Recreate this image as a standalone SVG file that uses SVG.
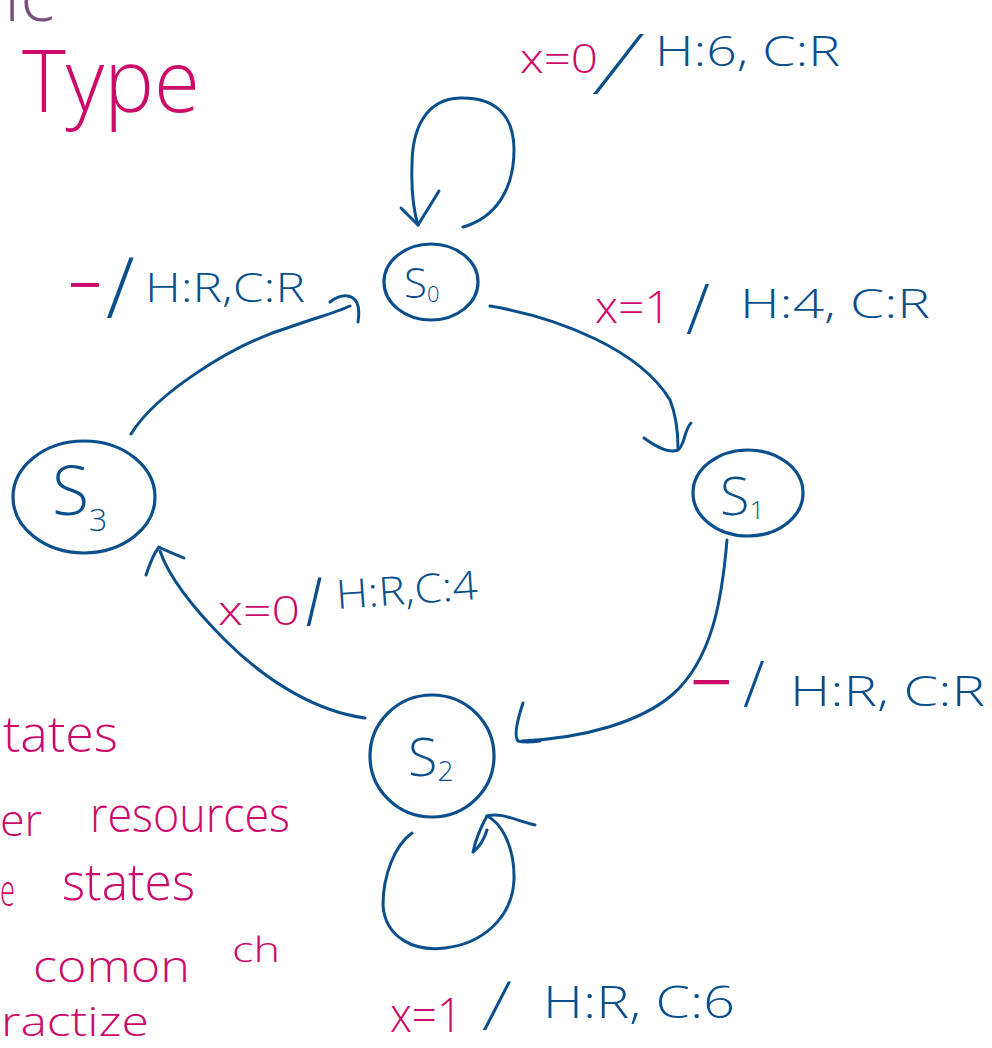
<svg xmlns="http://www.w3.org/2000/svg" width="992" height="1048" viewBox="0 0 992 1048">
  <defs>
    <style>
      .ink { fill: none; stroke: #0a4f8c; stroke-width: 3; stroke-linecap: round; stroke-linejoin: round; }
      .node { fill: none; stroke: #0a4f8c; stroke-width: 3.2; }
      text { font-family: "Open Sans", "Liberation Sans", sans-serif; font-weight: 300; }
      .blue { fill: #0a4f8c; }
      .pink { fill: #cc0a6a; }
      .plum { fill: #7b4f7f; }
      .dash { font-weight: 400; }
    </style>
  </defs>
  <rect width="992" height="1048" fill="#ffffff"/>

  <!-- heading fragments -->
  <text class="plum" x="4" y="21" font-size="72">ic</text>
  <text class="pink" x="22" y="112" font-size="86" textLength="178" lengthAdjust="spacingAndGlyphs">Type</text>

  <!-- states -->
  <g id="s0">
    <ellipse class="node" cx="431" cy="282" rx="47" ry="38"/>
    <text class="blue" x="404" y="298" font-size="42">S<tspan font-size="22" dy="4">0</tspan></text>
  </g>
  <g id="s1">
    <ellipse class="node" cx="748" cy="493" rx="55" ry="43"/>
    <text class="blue" x="720" y="515" font-size="54">S<tspan font-size="26" dy="4">1</tspan></text>
  </g>
  <g id="s2">
    <ellipse class="node" cx="432" cy="756" rx="62" ry="61"/>
    <text class="blue" x="408" y="776" font-size="54">S<tspan font-size="28" dy="5">2</tspan></text>
  </g>
  <g id="s3">
    <ellipse class="node" cx="84" cy="497" rx="71" ry="56"/>
    <text class="blue" x="52" y="515" font-size="68">S<tspan font-size="32" dy="16">3</tspan></text>
  </g>

  <!-- transitions -->
  <g id="connectors">
    <!-- S0 self loop -->
    <path class="ink" d="M463,227 C495,218 514,190 514,150 C514,115 495,97 460,98 C425,99 412,130 412,165 C411,195 414,212 418,225"/>
    <path class="ink" d="M401,208 L418,225 L439,191"/>
    <!-- S0 to S1 -->
    <path class="ink" d="M490,306 C560,318 640,350 670,400 C676,415 678,432 678,448"/>
    <path class="ink" d="M644,438 C655,446 668,454 678,450 C685,445 684,430 691,423"/>
    <!-- S1 to S2 -->
    <path class="ink" d="M727,540 C722,600 712,660 672,695 C640,722 585,738 522,741"/>
    <path class="ink" d="M523,703 C519,715 513,735 518,741 C525,743 533,742 540,741"/>
    <!-- S2 self loop -->
    <path class="ink" d="M412,833 C395,845 383,875 383,905 C385,938 415,952 445,948 C480,944 512,920 514,880 C515,845 500,822 487,816"/>
    <path class="ink" d="M535,825 C515,820 500,812 487,816 C482,825 476,838 473,852 C478,848 484,840 487,830"/>
    <!-- S2 to S3 -->
    <path class="ink" d="M365,718 C320,712 270,685 225,640 C195,610 170,580 160,551"/>
    <path class="ink" d="M146,575 C150,563 154,553 159,547 C166,551 175,554 184,558"/>
    <!-- S3 to S0 -->
    <path class="ink" d="M131,434 C155,395 230,345 290,327 C315,318 335,313 350,306"/>
    <path class="ink" d="M330,302 C340,294 352,293 357,303 C360,310 359,316 358,322"/>
  </g>

  <!-- transition labels -->
  <g id="labels">
    <text class="pink" x="520" y="73" font-size="40" textLength="78" lengthAdjust="spacingAndGlyphs">x=0</text>
    <text class="blue" transform="translate(592,94) skewX(-22)" font-size="84" font-weight="200">/</text>
    <text class="blue" x="655" y="66" font-size="42" textLength="185" lengthAdjust="spacingAndGlyphs">H:6, C:R</text>

    <text class="pink" x="595" y="323" font-size="44" textLength="76" lengthAdjust="spacingAndGlyphs">x=1</text>
    <text class="blue" x="686" y="334" font-size="70" font-weight="200">/</text>
    <text class="blue" x="740" y="318" font-size="40" textLength="190" lengthAdjust="spacingAndGlyphs">H:4, C:R</text>

    <text class="pink dash" x="68" y="306" font-size="60" textLength="34" lengthAdjust="spacingAndGlyphs">−</text>
    <text class="blue" x="106" y="318" font-size="84" font-weight="200">/</text>
    <text class="blue" x="145" y="302" font-size="40" textLength="160" lengthAdjust="spacingAndGlyphs">H:R,C:R</text>

    <text class="pink dash" x="690" y="705" font-size="64" textLength="43" lengthAdjust="spacingAndGlyphs">−</text>
    <text class="blue" x="743" y="707" font-size="64" font-weight="200">/</text>
    <text class="blue" x="790" y="706" font-size="42" textLength="195" lengthAdjust="spacingAndGlyphs">H:R, C:R</text>

    <text class="pink" x="218" y="625" font-size="40" textLength="82" lengthAdjust="spacingAndGlyphs">x=0</text>
    <text class="blue" transform="translate(306,626) skewX(8)" font-size="68" font-weight="200">/</text>
    <text class="blue" x="337" y="609" font-size="40" textLength="142" lengthAdjust="spacingAndGlyphs" transform="rotate(-4 337 609)">H:R,C:4</text>

    <text class="pink" x="390" y="1032" font-size="48" textLength="72" lengthAdjust="spacingAndGlyphs">x=1</text>
    <text class="blue" transform="translate(482,1030) skewX(-8)" font-size="68" font-weight="200">/</text>
    <text class="blue" x="543" y="1018" font-size="44" textLength="192" lengthAdjust="spacingAndGlyphs">H:R, C:6</text>
  </g>

  <!-- side notes -->
  <g id="notes">
    <text class="pink" x="3" y="752" font-size="50" textLength="115" lengthAdjust="spacingAndGlyphs">tates</text>
    <text class="pink" x="0" y="836" font-size="44" textLength="42" lengthAdjust="spacingAndGlyphs">er</text>
    <text class="pink" x="90" y="832" font-size="48" textLength="200" lengthAdjust="spacingAndGlyphs">resources</text>
    <text class="pink" x="0" y="906" font-size="44" textLength="15" lengthAdjust="spacingAndGlyphs">e</text>
    <text class="pink" x="62" y="900" font-size="52" textLength="133" lengthAdjust="spacingAndGlyphs">states</text>
    <text class="pink" x="33" y="982" font-size="44" textLength="157" lengthAdjust="spacingAndGlyphs">comon</text>
    <text class="pink" x="232" y="962" font-size="34" textLength="48" lengthAdjust="spacingAndGlyphs">ch</text>
    <text class="pink" x="1" y="1036" font-size="41" textLength="148" lengthAdjust="spacingAndGlyphs">ractize</text>
  </g>
</svg>
